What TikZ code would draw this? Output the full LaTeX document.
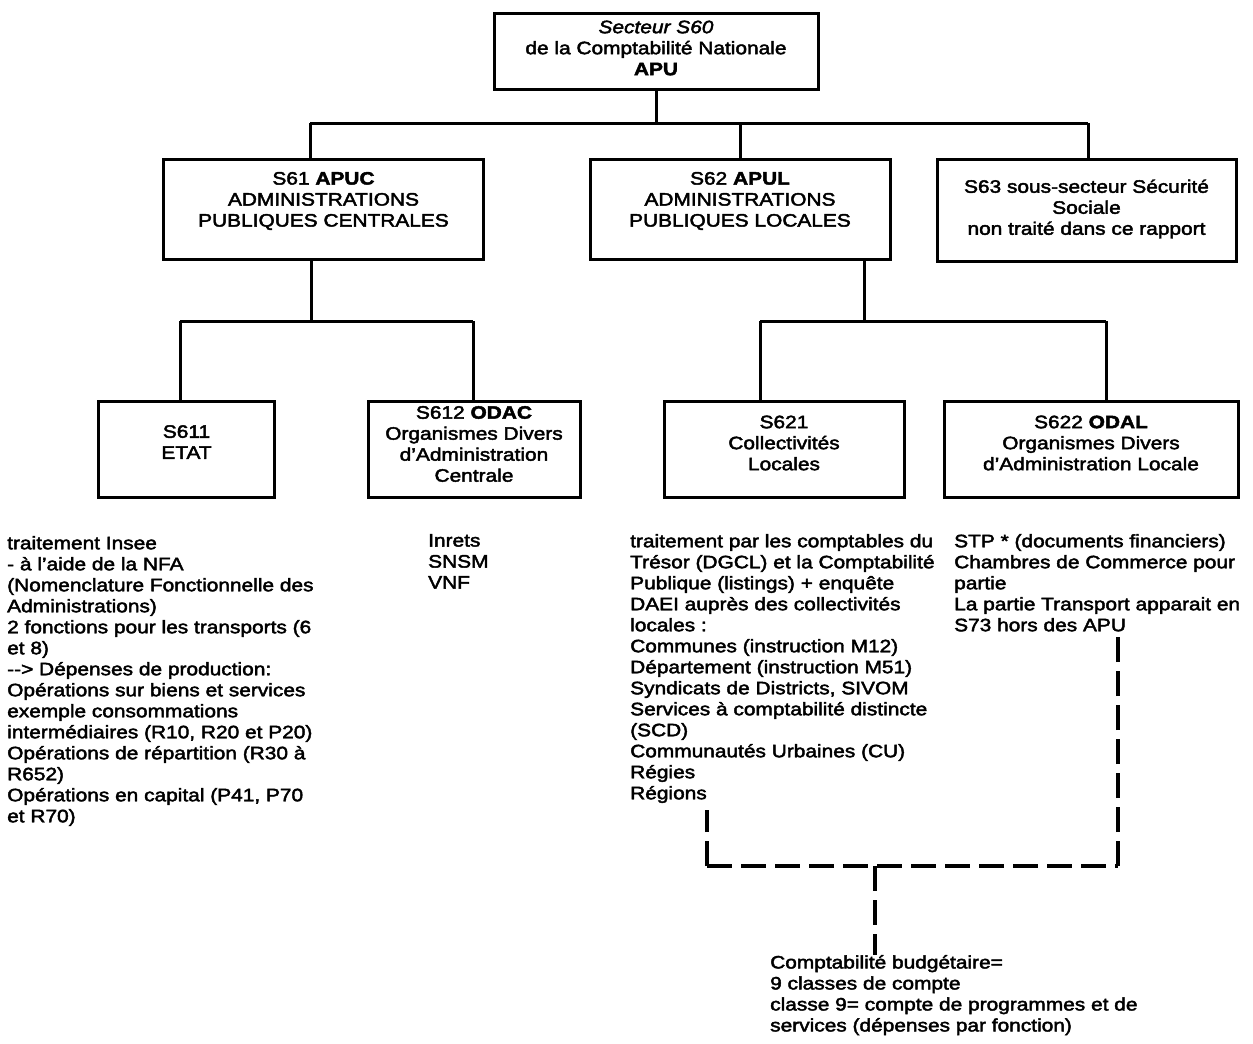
\documentclass[tikz,border=0pt]{standalone}
\usepackage{fontspec}
\setmainfont{Liberation Sans}[FakeStretch=1.16, FakeBold=2.4]
\newcommand\fsz{\fontsize{18bp}{21bp}\selectfont}
\tikzset{
  box/.style={draw, line width=3bp, inner sep=0pt},
  btext/.style={align=center, font=\fsz, inner sep=0pt},
  blk/.style={align=left, font=\fsz, inner sep=0pt, anchor=north west},
  conn/.style={line width=3bp},
  dconn/.style={line width=3.4bp, dash pattern=on 25bp off 9bp},
}
\begin{document}
\begin{tikzpicture}[x=1bp, y=-1bp]
\useasboundingbox (0,0) rectangle (1253,1044);
\fill[white] (0,0) rectangle (1253,1044);

% ---- boxes
\node[box, minimum width=324bp, minimum height=76bp] (top) at (656,51) {};
\node[btext] (toptxt) at ([yshift=3bp]top.center) {\textit{Secteur S60}\\de la Comptabilité Nationale\\\textbf{APU}};

\node[box, minimum width=319bp, minimum height=100bp] (apuc) at (323.5,209) {};
\node[btext] (apuctxt) at ([yshift=8bp]apuc.center) {S61 \textbf{APUC}\\ADMINISTRATIONS\\PUBLIQUES CENTRALES};

\node[box, minimum width=300bp, minimum height=100bp] (apul) at (740,209) {};
\node[btext] (apultxt) at ([yshift=8bp]apul.center) {S62 \textbf{APUL}\\ADMINISTRATIONS\\PUBLIQUES LOCALES};

\node[box, minimum width=299bp, minimum height=102bp] (s63) at (1086.5,210) {};
\node[btext] (s63txt) at ([yshift=1bp]s63.center) {S63 sous-secteur Sécurité\\Sociale\\non traité dans ce rapport};

\node[box, minimum width=175bp, minimum height=96bp] (s611) at (186.5,449) {};
\node[btext] (s611txt) at ([yshift=7bp]s611.center) {S611\\ETAT};

\node[box, minimum width=212bp, minimum height=96bp] (s612) at (474,449) {};
\node[btext] (s612txt) at ([yshift=5bp]s612.center) {S612 \textbf{ODAC}\\Organismes Divers\\d'Administration\\Centrale};

\node[box, minimum width=240bp, minimum height=96bp] (s621) at (784,449) {};
\node[btext] (s621txt) at ([yshift=6bp]s621.center) {S621\\Collectivités\\Locales};

\node[box, minimum width=294bp, minimum height=96bp] (s622) at (1091,449) {};
\node[btext] (s622txt) at ([yshift=6bp]s622.center) {S622 \textbf{ODAL}\\Organismes Divers\\d'Administration Locale};

% ---- text blocks
\node[blk] (etat) at (7,536) {traitement Insee\\
- à l'aide de la NFA\\
(Nomenclature Fonctionnelle des\\
Administrations)\\
2 fonctions pour les transports (6\\
et 8)\\
{-}{-}> Dépenses de production:\\
Opérations sur biens et services\\
exemple consommations\\
intermédiaires (R10, R20 et P20)\\
Opérations de répartition (R30 à\\
R652)\\
Opérations en capital (P41, P70\\
et R70)};

\node[blk] (odac) at (428,534) {Inrets\\SNSM\\VNF};

\node[blk] (coll) at (630,534) {traitement par les comptables du\\
Trésor (DGCL) et la Comptabilité\\
Publique (listings) + enquête\\
DAEI auprès des collectivités\\
locales :\\
Communes (instruction M12)\\
Département (instruction M51)\\
Syndicats de Districts, SIVOM\\
Services à comptabilité distincte\\
(SCD)\\
Communautés Urbaines (CU)\\
Régies\\
Régions};

\node[blk] (odal) at (954,534) {STP * (documents financiers)\\
Chambres de Commerce pour\\
partie\\
La partie Transport apparait en\\
S73 hors des APU};

\node[blk] (budget) at (770,955) {Comptabilité budgétaire=\\
9 classes de compte\\
classe 9= compte de programmes et de\\
services (dépenses par fonction)};

% ---- junctions
\coordinate (j0) at (656,123);
\coordinate (jL) at (310,123);
\coordinate (jR) at (1088,123);
\coordinate (kL) at (311,321);
\coordinate (kL1) at (180,321);
\coordinate (kL2) at (473,321);
\coordinate (kR) at (864,321);
\coordinate (kR1) at (760,321);
\coordinate (kR2) at (1106,321);

% ---- solid connectors
\draw[conn] (top.south) -- (j0);
\draw[conn] (jL) -- (jR);
\draw[conn] (jL) -- (jL |- apuc.north);
\draw[conn] (apul.north |- jL) -- (apul.north);
\draw[conn] (jR) -- (jR |- s63.north);

\draw[conn] (kL |- apuc.south) -- (kL);
\draw[conn] (kL1) -- (kL2);
\draw[conn] (kL1) -- (kL1 |- s611.north);
\draw[conn] (kL2) -- (kL2 |- s612.north);

\draw[conn] (kR |- apul.south) -- (kR);
\draw[conn] (kR1) -- (kR2);
\draw[conn] (kR1) -- (kR1 |- s621.north);
\draw[conn] (kR2) -- (kR2 |- s622.north);

% ---- dashed connectors
\coordinate (d1) at (707,810);
\coordinate (d2) at (707,866);
\coordinate (d3) at (1118,866);
\coordinate (d4) at (1118,628);
\coordinate (d5) at (875,866);
\coordinate (d6) at (875,955);
\draw[dconn] (d2) -- (d1);
\draw[dconn] (d2) -- (d3);
\draw[dconn] (d3) -- (d4);
\draw[dconn] (d5) -- (d6);
\end{tikzpicture}
\end{document}
